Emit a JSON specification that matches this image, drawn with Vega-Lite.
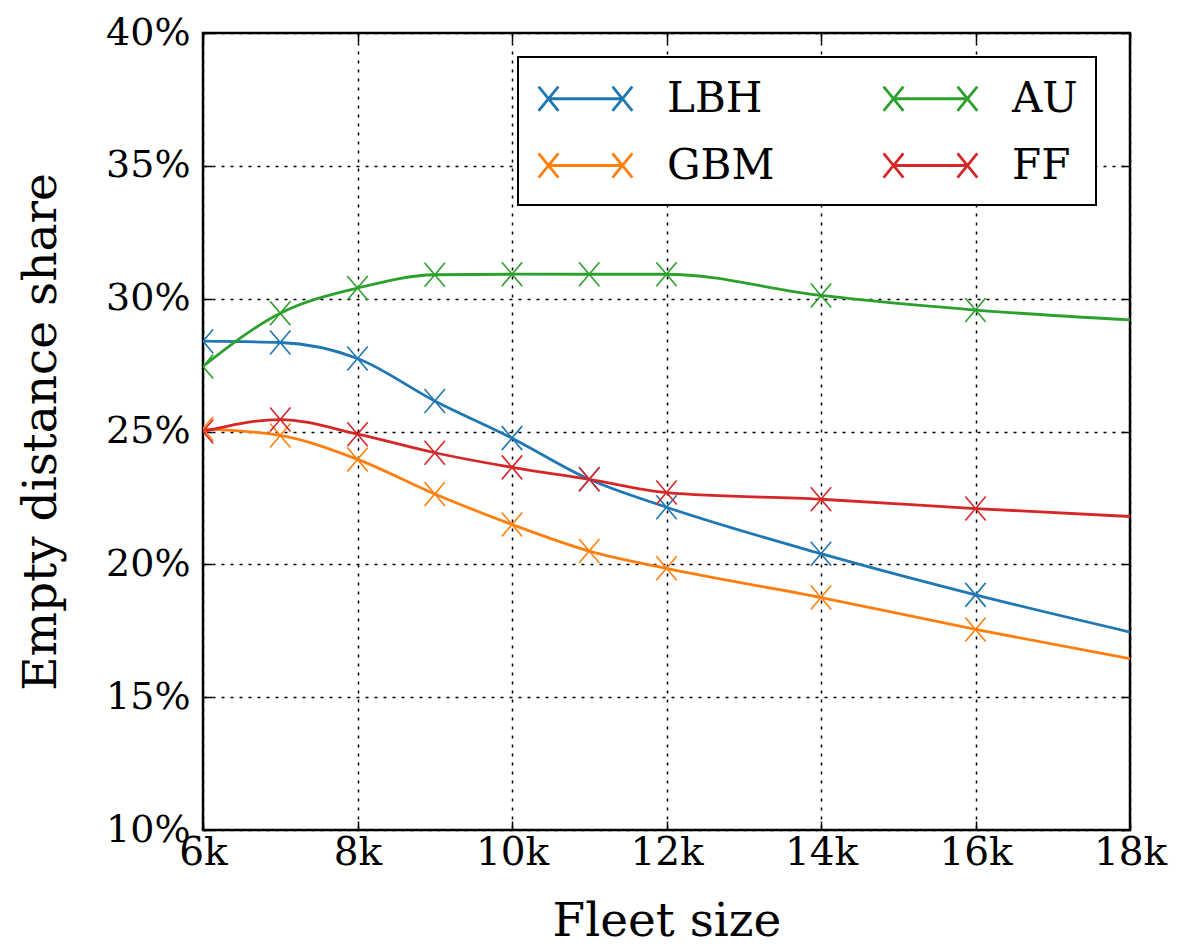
{
  "$schema": "https://vega.github.io/schema/vega-lite/v6.json",
  "width": 927,
  "height": 797,
  "autosize": "none",
  "padding": {"left": 203, "top": 33, "right": 53, "bottom": 119},
  "background": "white",
  "config": {
    "font": "DejaVu Serif",
    "view": {"stroke": "black", "strokeWidth": 2.5},
    "axis": {
      "labelFont": "DejaVu Serif",
      "titleFont": "DejaVu Serif",
      "labelColor": "black",
      "titleColor": "black",
      "titleFontWeight": "normal",
      "domain": false,
      "tickColor": "black",
      "tickWidth": 1.5,
      "gridColor": "black",
      "gridDash": [3, 6],
      "gridWidth": 1.5,
      "gridOpacity": 1
    },
    "legend": {"labelFont": "DejaVu Serif", "strokeWidth": 2}
  },
  "data": {
    "values": [
      {"fleet": 6000, "method": "LBH", "share": 28.4},
      {"fleet": 7000, "method": "LBH", "share": 28.35},
      {"fleet": 8000, "method": "LBH", "share": 27.75},
      {"fleet": 9000, "method": "LBH", "share": 26.15},
      {"fleet": 10000, "method": "LBH", "share": 24.75},
      {"fleet": 11000, "method": "LBH", "share": 23.2},
      {"fleet": 12000, "method": "LBH", "share": 22.15},
      {"fleet": 14000, "method": "LBH", "share": 20.4},
      {"fleet": 16000, "method": "LBH", "share": 18.85},
      {"fleet": 18000, "method": "LBH", "share": 17.45},
      {"fleet": 6000, "method": "GBM", "share": 25.1},
      {"fleet": 7000, "method": "GBM", "share": 24.85},
      {"fleet": 8000, "method": "GBM", "share": 23.95},
      {"fleet": 9000, "method": "GBM", "share": 22.65},
      {"fleet": 10000, "method": "GBM", "share": 21.5},
      {"fleet": 11000, "method": "GBM", "share": 20.5},
      {"fleet": 12000, "method": "GBM", "share": 19.85},
      {"fleet": 14000, "method": "GBM", "share": 18.75},
      {"fleet": 16000, "method": "GBM", "share": 17.55},
      {"fleet": 18000, "method": "GBM", "share": 16.45},
      {"fleet": 6000, "method": "AU", "share": 27.45},
      {"fleet": 7000, "method": "AU", "share": 29.45},
      {"fleet": 8000, "method": "AU", "share": 30.4},
      {"fleet": 9000, "method": "AU", "share": 30.9},
      {"fleet": 10000, "method": "AU", "share": 30.92},
      {"fleet": 11000, "method": "AU", "share": 30.92},
      {"fleet": 12000, "method": "AU", "share": 30.92},
      {"fleet": 14000, "method": "AU", "share": 30.12},
      {"fleet": 16000, "method": "AU", "share": 29.57},
      {"fleet": 18000, "method": "AU", "share": 29.2},
      {"fleet": 6000, "method": "FF", "share": 25.0},
      {"fleet": 7000, "method": "FF", "share": 25.45},
      {"fleet": 8000, "method": "FF", "share": 24.9},
      {"fleet": 9000, "method": "FF", "share": 24.2},
      {"fleet": 10000, "method": "FF", "share": 23.65},
      {"fleet": 11000, "method": "FF", "share": 23.2},
      {"fleet": 12000, "method": "FF", "share": 22.7},
      {"fleet": 14000, "method": "FF", "share": 22.45},
      {"fleet": 16000, "method": "FF", "share": 22.1},
      {"fleet": 18000, "method": "FF", "share": 21.8}
    ]
  },
  "layer": [
    {
      "mark": {"type": "line", "interpolate": "monotone", "strokeWidth": 2.8, "clip": true},
      "encoding": {
        "x": {
          "field": "fleet", "type": "quantitative",
          "scale": {"domain": [6000, 18000], "nice": false, "zero": false},
          "axis": {
            "values": [6000, 8000, 10000, 12000, 14000, 16000, 18000],
            "format": "~s",
            "title": "Fleet size",
            "labelFontSize": 39,
            "labelFlush": false,
            "titleFontSize": 47,
            "tickSize": -9,
            "labelPadding": 12,
            "titlePadding": 26,
            "grid": true
          }
        },
        "y": {
          "field": "share", "type": "quantitative",
          "scale": {"domain": [10, 40], "nice": false, "zero": false},
          "axis": {
            "values": [10, 15, 20, 25, 30, 35, 40],
            "labelExpr": "datum.value + '%'",
            "title": "Empty distance share",
            "labelFontSize": 38,
            "labelFlush": false,
            "titleFontSize": 47,
            "tickSize": -9,
            "labelPadding": 22,
            "titlePadding": 40,
            "grid": true
          }
        },
        "color": {
          "field": "method", "type": "nominal",
          "scale": {"domain": ["LBH", "AU", "GBM", "FF"], "range": ["#1f77b4", "#2ca02c", "#ff7f0e", "#d62728"]},
          "legend": {
            "title": null,
            "orient": "none",
            "legendX": 315,
            "legendY": 24,
            "columns": 2,
            "direction": "horizontal",
            "symbolType": "M-0.5,0L2.86,0M-0.95,-0.55L-0.05,0.55M-0.95,0.55L-0.05,-0.55M2.41,-0.55L3.31,0.55M2.41,0.55L3.31,-0.55",
            "symbolSize": 1936,
            "symbolStrokeWidth": 2.8,
            "symbolFillColor": "transparent",
            "labelFontSize": 42,
            "labelColor": "black",
            "labelOffset": 84,
            "rowPadding": 22,
            "columnPadding": 103,
            "padding": 18,
            "strokeColor": "black",
            "fillColor": "white",
            "cornerRadius": 0
          }
        }
      }
    },
    {
      "transform": [{"filter": "datum.fleet < 18000"}],
      "mark": {"type": "point", "shape": "M-0.85,-1L0.85,1M-0.85,1L0.85,-1", "filled": false, "size": 576, "strokeWidth": 1.6, "opacity": 1, "clip": true},
      "encoding": {
        "x": {
          "field": "fleet", "type": "quantitative",
          "axis": {"orient": "top", "values": [6000, 8000, 10000, 12000, 14000, 16000, 18000], "labels": false, "title": null, "grid": false, "tickSize": -9}
        },
        "y": {
          "field": "share", "type": "quantitative",
          "axis": {"orient": "right", "values": [10, 15, 20, 25, 30, 35, 40], "labels": false, "title": null, "grid": false, "tickSize": -9}
        },
        "color": {"field": "method", "type": "nominal", "legend": null}
      }
    }
  ],
  "resolve": {"axis": {"x": "independent", "y": "independent"}}
}
